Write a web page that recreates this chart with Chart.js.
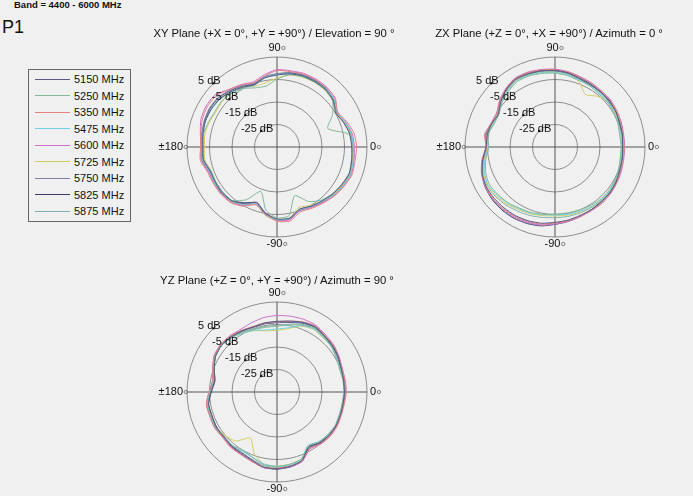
<!DOCTYPE html>
<html>
<head>
<meta charset="utf-8">
<script src="https://cdn.jsdelivr.net/npm/chart.js@4.4.0/dist/chart.umd.min.js"></script>
<style>
html, body { margin: 0; padding: 0; width: 693px; height: 496px; overflow: hidden; background: #f0f0f0;
  font-family: "Liberation Sans", Arial, sans-serif; color: #111; }
canvas, .txt { position: absolute; }
#band { left: 14px; top: -1px; font-size: 9.5px; font-weight: bold; }
#p1 { left: 2px; top: 17px; font-size: 18px; }
.title { width: 300px; text-align: center; font-size: 11.3px; white-space: nowrap; }
#legend { position: absolute; left: 28px; top: 69px; width: 103px; height: 153px; box-sizing: border-box;
  border: 1px solid #666; padding-top: 1px; }
.item { height: 16.5px; display: flex; align-items: center; font-size: 11px; }
.swatch { display: inline-block; width: 35px; margin-left: 6px; margin-right: 4px; border-top: 1px solid; }
</style>
</head>
<body>
<div id="band" class="txt">Band = 4400 - 6000 MHz</div>
<div id="p1" class="txt">P1</div>
<div id="legend"></div>

<canvas id="xy" width="240" height="240" style="left:157px;top:27px"></canvas>
<canvas id="zx" width="240" height="240" style="left:435px;top:27px"></canvas>
<canvas id="yz" width="240" height="240" style="left:157px;top:272px"></canvas>

<div class="txt title" style="left:124px;top:27px">XY Plane (+X = 0°, +Y = +90°) / Elevation = 90 °</div>
<div class="txt title" style="left:399px;top:27px">ZX Plane (+Z = 0°, +X = +90°) / Azimuth = 0 °</div>
<div class="txt title" style="left:127px;top:274px">YZ Plane (+Z = 0°, +Y = +90°) / Azimuth = 90 °</div>

<script>
// frequencies (legend) and line colours
const freqs = ['5150 MHz', '5250 MHz', '5350 MHz', '5475 MHz', '5600 MHz', '5725 MHz', '5750 MHz', '5825 MHz', '5875 MHz'];
const colors = ['#5a5a80', '#80b898', '#e48080', '#70d0e4', '#cc70cc', '#d4cc60', '#8080a8', '#3a3a6a', '#80b0b0'];

// angle in degrees, counter-clockwise from +axis (0 deg at right)
const angles = [0, 10, 20, 30, 40, 50, 60, 70, 80, 90, 100, 110, 120, 130, 140, 150, 160, 170,
  180, 190, 200, 210, 220, 230, 240, 250, 260, 270, 280, 290, 300, 310, 320, 330, 340, 350];

// radial ticks (dB)
const ringTicks = [5, -5, -15, -25];
const rMin = -35;
const rMax = 5;

// gain in dB, one row per frequency, one value per angle
const xyGain = [
  [-1.8,-2.2,-3.4,-4.8,-2.5,-1.6,-1.5,-1.4,-2.0,-3.0,-3.8,-5.6,-4.4,-3.0,-1.8,-1.3,-1.2,-1.6,-2.0,-1.8,-3.5,-3.4,-3.2,-3.8,-6.0,-8.8,-5.2,-3.0,-2.9,-5.6,-4.7,-3.8,-2.6,-1.7,-0.8,-1.3],
  [-1.5,-2.5,-11.0,-6.5,-2.8,-1.8,-1.6,-1.8,-2.4,-4.8,-7.5,-7.0,-5.0,-3.8,-3.0,-3.2,-2.6,-1.8,-2.2,-2.0,-3.8,-3.8,-3.6,-4.0,-8.0,-14.0,-6.5,-3.5,-4.0,-12.0,-7.0,-4.2,-2.8,-1.8,-0.9,-1.4],
  [0.4,-0.2,-2.0,-3.8,-1.2,-0.6,-0.5,-0.4,-1.0,-1.0,-3.0,-4.6,-3.2,-1.8,0.4,0.8,0.4,-0.6,-1.0,-0.4,-2.2,-2.4,-2.4,-2.8,-4.6,-7.6,-4.6,-2.0,-1.6,-4.4,-3.6,-2.6,-1.4,-0.4,0.6,0.2],
  [-1.0,-1.5,-2.8,-4.0,-2.0,-1.4,-1.4,-1.5,-2.0,-2.8,-3.6,-5.8,-4.6,-3.2,-1.9,-1.4,-1.2,-1.4,-1.8,-1.4,-3.2,-3.0,-3.2,-3.6,-5.6,-8.0,-4.4,-2.8,-2.8,-5.4,-4.5,-3.6,-2.0,-1.0,-0.2,-0.6],
  [-0.6,-1.0,-2.6,-4.2,-1.4,-0.4,-0.2,-0.2,-0.6,-0.6,-2.4,-4.2,-3.0,-1.6,1.0,1.4,1.0,-0.4,-1.2,-0.8,-2.6,-2.6,-2.8,-3.0,-5.0,-8.2,-5.4,-2.2,-2.2,-5.0,-4.0,-3.0,-1.6,-0.6,0.2,-0.2],
  [-1.6,-2.0,-3.2,-4.6,-2.8,-2.0,-1.8,-2.0,-2.4,-4.4,-6.0,-6.2,-4.4,-3.4,-3.4,-3.6,-3.0,-2.4,-2.8,-2.4,-3.8,-3.4,-3.0,-3.2,-5.0,-7.8,-4.2,-2.4,-3.0,-6.4,-5.0,-3.6,-2.2,-1.4,-0.6,-1.0],
  [-1.2,-1.8,-3.2,-4.6,-2.0,-1.0,-0.8,-0.9,-1.4,-2.4,-3.2,-5.0,-3.6,-2.2,-0.8,-0.4,-0.6,-1.0,-1.6,-1.0,-2.8,-2.8,-2.8,-3.4,-5.4,-8.6,-5.0,-2.6,-2.4,-5.0,-4.2,-3.2,-2.0,-1.2,-0.4,-0.8],
  [-1.4,-1.9,-3.4,-4.4,-2.2,-1.2,-1.0,-1.1,-1.6,-2.6,-3.4,-5.2,-3.8,-2.4,-1.0,-0.6,-0.8,-1.4,-2.0,-1.6,-3.4,-3.6,-3.6,-3.8,-6.4,-8.6,-4.8,-2.6,-2.6,-5.4,-4.6,-3.6,-2.4,-1.4,-0.6,-1.0],
  [-1.0,-1.4,-2.6,-4.2,-2.2,-1.4,-1.3,-1.3,-1.8,-2.8,-3.8,-5.6,-4.2,-2.9,-1.6,-1.0,-0.9,-1.2,-1.6,-1.2,-3.0,-3.2,-3.0,-3.4,-5.4,-8.4,-4.6,-2.8,-2.8,-5.6,-4.4,-3.2,-2.0,-1.0,-0.2,-0.6]
];

const zxGain = [
  [-5.0,-4.6,-4.5,-3.7,-3.6,-3.2,-3.2,-2.8,-1.6,-1.0,-0.6,-0.5,-0.2,-1.4,-3.6,-5.9,-5.0,-4.4,-4.4,-2.4,-0.6,0.3,0.4,0.3,0.2,-0.1,-0.6,-1.5,-2.0,-2.6,-2.8,-3.2,-3.2,-3.7,-4.5,-4.6],
  [-5.6,-5.8,-5.2,-4.8,-4.4,-4.4,-3.8,-3.6,-2.8,-2.2,-1.8,-1.4,-1.4,-2.8,-4.2,-6.2,-6.0,-4.6,-5.6,-3.8,-2.2,-1.4,-2.0,-2.6,-3.6,-4.0,-4.6,-5.2,-5.2,-5.0,-4.6,-4.2,-4.2,-4.6,-5.0,-5.6],
  [-4.2,-4.2,-3.6,-3.2,-2.8,-2.8,-2.4,-2.0,-1.2,-0.6,-0.2,0.2,0.2,-1.2,-3.0,-5.2,-4.8,-3.2,-4.6,-2.2,-0.4,0.6,0.8,0.8,0.6,0.2,-0.2,-1.2,-1.6,-2.2,-2.6,-2.4,-2.8,-3.4,-3.8,-4.2],
  [-5.4,-5.2,-4.8,-4.6,-4.0,-4.0,-3.6,-3.2,-2.4,-1.8,-1.4,-1.0,-1.0,-2.4,-3.8,-6.0,-5.6,-4.6,-5.4,-3.4,-1.6,-0.8,-1.6,-2.4,-3.2,-3.8,-4.4,-4.8,-4.6,-4.4,-4.0,-3.8,-3.8,-4.4,-4.8,-5.4],
  [-4.0,-4.0,-3.6,-3.2,-2.6,-2.6,-2.2,-1.8,-1.0,-0.4,0.0,0.4,0.4,-1.0,-2.8,-5.0,-4.6,-3.4,-4.2,-2.0,-0.2,0.8,1.0,1.0,1.0,0.6,0.2,-0.8,-1.4,-2.0,-2.4,-2.4,-2.8,-3.2,-3.6,-4.0],
  [-5.2,-5.2,-4.8,-4.2,-4.0,-5.6,-8.0,-4.0,-2.4,-1.8,-1.4,-0.9,-0.8,-2.2,-3.8,-5.8,-5.4,-4.2,-5.0,-3.0,-1.2,-0.4,-1.0,-1.8,-2.8,-3.4,-4.0,-4.4,-4.2,-4.0,-3.8,-3.6,-3.8,-4.2,-4.6,-5.2],
  [-4.8,-4.8,-4.2,-4.0,-3.4,-3.2,-3.0,-2.6,-1.8,-1.2,-0.8,-0.2,-0.2,-1.8,-3.2,-5.6,-5.4,-3.6,-5.0,-2.8,-0.6,0.6,1.2,1.4,1.4,1.0,0.4,-0.8,-1.6,-2.2,-2.8,-3.0,-3.4,-3.8,-4.2,-4.8],
  [-5.0,-4.6,-4.2,-3.8,-3.2,-3.2,-2.8,-2.4,-1.4,-0.8,-0.4,0.0,0.0,-1.4,-3.4,-6.0,-5.0,-3.8,-4.6,-2.4,-0.4,0.8,1.4,1.6,1.6,1.2,0.6,-0.6,-1.4,-2.2,-2.8,-3.0,-3.2,-3.8,-4.2,-5.0],
  [-4.6,-4.8,-4.4,-4.0,-3.6,-3.6,-3.2,-2.8,-2.0,-1.4,-1.0,-0.6,-0.6,-2.0,-3.6,-5.8,-5.4,-4.2,-5.2,-3.0,-1.2,-0.2,-0.6,-1.2,-2.0,-2.6,-3.2,-3.6,-3.6,-3.6,-3.6,-3.4,-3.6,-4.0,-4.4,-4.6]
];

const yzGain = [
  [-5.0,-5.0,-4.6,-3.6,-2.8,-2.2,-1.4,-2.0,-3.0,-3.6,-3.8,-4.2,-3.6,-3.2,-2.8,-3.4,-5.3,-6.8,-5.6,-4.1,-4.2,-3.8,-4.1,-3.7,-3.7,-2.8,-1.1,-0.9,-1.4,-2.6,-6.8,-5.6,-5.0,-4.8,-5.0,-5.2],
  [-5.4,-5.2,-5.4,-4.6,-3.4,-3.0,-2.2,-3.4,-4.8,-5.8,-5.8,-5.4,-4.4,-3.4,-2.8,-3.2,-4.9,-6.4,-5.4,-3.7,-3.8,-3.6,-4.3,-4.1,-4.9,-3.8,-2.1,-1.9,-2.4,-3.4,-7.2,-6.0,-5.6,-5.2,-5.6,-5.6],
  [-4.2,-4.2,-4.2,-3.4,-2.4,-2.0,-1.0,-1.8,-3.0,-3.8,-3.8,-4.0,-3.4,-2.6,-2.2,-2.8,-4.5,-6.0,-4.8,-3.1,-3.2,-3.0,-3.5,-2.9,-2.9,-2.2,-1.1,-1.1,-1.6,-2.4,-6.0,-4.8,-4.2,-4.2,-4.6,-4.6],
  [-5.2,-5.0,-5.2,-4.4,-3.6,-3.2,-2.6,-3.6,-6.0,-7.0,-7.0,-5.8,-4.8,-3.6,-2.8,-3.0,-4.7,-6.2,-5.0,-3.5,-3.6,-3.4,-4.1,-3.9,-4.5,-4.0,-2.5,-1.9,-2.2,-3.2,-7.6,-6.2,-5.4,-5.0,-5.4,-5.4],
  [-4.4,-4.4,-4.2,-3.2,-2.2,-1.6,-0.6,-0.6,-0.8,-1.0,-1.4,-2.2,-2.8,-2.4,-2.2,-2.8,-4.7,-6.0,-5.0,-3.5,-3.4,-3.2,-3.7,-3.1,-3.1,-2.2,-0.9,-0.9,-1.2,-2.2,-5.8,-4.8,-4.4,-4.4,-4.8,-4.8],
  [-5.0,-5.2,-5.2,-4.6,-3.6,-3.4,-2.8,-3.8,-6.4,-7.6,-7.4,-6.0,-4.6,-3.4,-2.8,-3.2,-5.1,-6.6,-5.4,-3.7,-3.8,-3.6,-4.9,-6.5,-11.4,-5.6,-2.3,-2.1,-2.4,-3.4,-7.0,-5.8,-5.2,-5.0,-5.4,-5.6],
  [-4.8,-4.8,-4.6,-3.8,-2.8,-2.4,-1.4,-2.2,-3.4,-4.0,-4.0,-4.2,-3.6,-2.8,-2.4,-2.8,-4.7,-6.0,-4.8,-3.1,-3.4,-3.2,-3.7,-3.1,-2.9,-2.2,-0.9,-0.9,-1.2,-2.2,-6.2,-5.0,-4.6,-4.6,-5.0,-5.0],
  [-4.8,-5.0,-4.8,-3.8,-3.0,-2.4,-1.6,-2.4,-3.6,-4.2,-4.2,-4.4,-3.8,-3.2,-2.8,-3.4,-5.3,-7.0,-5.8,-4.1,-4.2,-4.0,-4.3,-3.5,-3.3,-2.4,-0.9,-0.7,-1.2,-2.4,-6.6,-5.4,-5.0,-4.8,-5.2,-5.2],
  [-4.6,-4.6,-4.8,-4.0,-3.2,-2.8,-2.0,-3.0,-4.4,-5.4,-5.4,-5.2,-4.2,-3.2,-2.6,-3.0,-4.7,-6.2,-5.0,-3.3,-3.6,-3.4,-4.1,-3.7,-3.9,-3.0,-1.7,-1.5,-1.8,-2.8,-6.8,-5.4,-5.0,-4.8,-5.2,-5.2]
];

// radar goes clockwise from its start angle, so walk the angles backwards
const order = angles.map((a, i) => (angles.length - i) % angles.length);
const indexOf = deg => ((360 - deg) % 360) / 10;

const FONT = '"Liberation Sans", Arial, sans-serif';

function degLabel(ctx, text, x, y, align) {
  const w = ctx.measureText(text).width;
  const total = w + 5;
  let sx = x;
  if (align === 'center') sx = x - total / 2;
  if (align === 'right') sx = x - total;
  ctx.textAlign = 'left';
  ctx.fillText(text, sx, y);
  ctx.beginPath();
  ctx.arc(sx + w + 2.8, y, 1.7, 0, Math.PI * 2);
  ctx.lineWidth = 0.8;
  ctx.strokeStyle = '#666';
  ctx.stroke();
}

const polarLabels = {
  id: 'polarLabels',
  afterDraw(chart) {
    const r = chart.scales.r;
    const ctx = chart.ctx;
    const R = r.drawingArea;
    ctx.save();
    ctx.font = '11px ' + FONT;
    ctx.fillStyle = '#111';
    ctx.textBaseline = 'middle';

    let p = r.getPointPosition(indexOf(0), R + 3);
    degLabel(ctx, '0', p.x, p.y, 'left');
    p = r.getPointPosition(indexOf(90), R + 9);
    degLabel(ctx, '90', p.x, p.y, 'center');
    p = r.getPointPosition(indexOf(180), R - 1);
    degLabel(ctx, '\u00b1180', p.x, p.y, 'right');
    p = r.getPointPosition(indexOf(270), R + 7);
    degLabel(ctx, '-90', p.x, p.y, 'center');

    ctx.textBaseline = 'alphabetic';
    ctx.textAlign = 'center';
    ringTicks.forEach(v => {
      const q = r.getPointPositionForValue(indexOf(135), v);
      ctx.fillStyle = '#000';
      ctx.fillRect(q.x - 1, q.y - 1, 2, 2);
      ctx.fillStyle = '#111';
      ctx.fillText(v + ' dB', q.x - 4, q.y + 1);
    });
    ctx.restore();
  }
};

function makeChart(id, gains) {
  return new Chart(document.getElementById(id), {
    type: 'radar',
    data: {
      labels: order.map(i => angles[i]),
      datasets: gains.map((row, k) => ({
        label: freqs[k],
        data: order.map(i => row[i]),
        borderColor: colors[k],
        borderWidth: 1,
        fill: false,
        pointRadius: 0,
        tension: 0.2
      }))
    },
    options: {
      responsive: false,
      animation: false,
      devicePixelRatio: 1,
      events: [],
      layout: { padding: 30 },
      plugins: { legend: { display: false }, tooltip: { enabled: false } },
      scales: {
        r: {
          min: rMin,
          max: rMax,
          startAngle: 90,
          ticks: { display: false, stepSize: 10 },
          pointLabels: { display: false },
          grid: { circular: true, color: '#8c8c8c', lineWidth: 1 },
          angleLines: {
            display: true,
            lineWidth: 1,
            color: ctx => (ctx.index % 9 === 0 ? '#555' : 'rgba(0,0,0,0)')
          }
        }
      }
    },
    plugins: [polarLabels]
  });
}

const xyChart = makeChart('xy', xyGain);
makeChart('zx', zxGain);
makeChart('yz', yzGain);

// legend built from the chart's datasets
const legendBox = document.getElementById('legend');
xyChart.data.datasets.forEach(ds => {
  const row = document.createElement('div');
  row.className = 'item';
  const sw = document.createElement('span');
  sw.className = 'swatch';
  sw.style.borderTopColor = ds.borderColor;
  const tx = document.createElement('span');
  tx.textContent = ds.label;
  row.append(sw, tx);
  legendBox.append(row);
});
</script>
</body>
</html>
